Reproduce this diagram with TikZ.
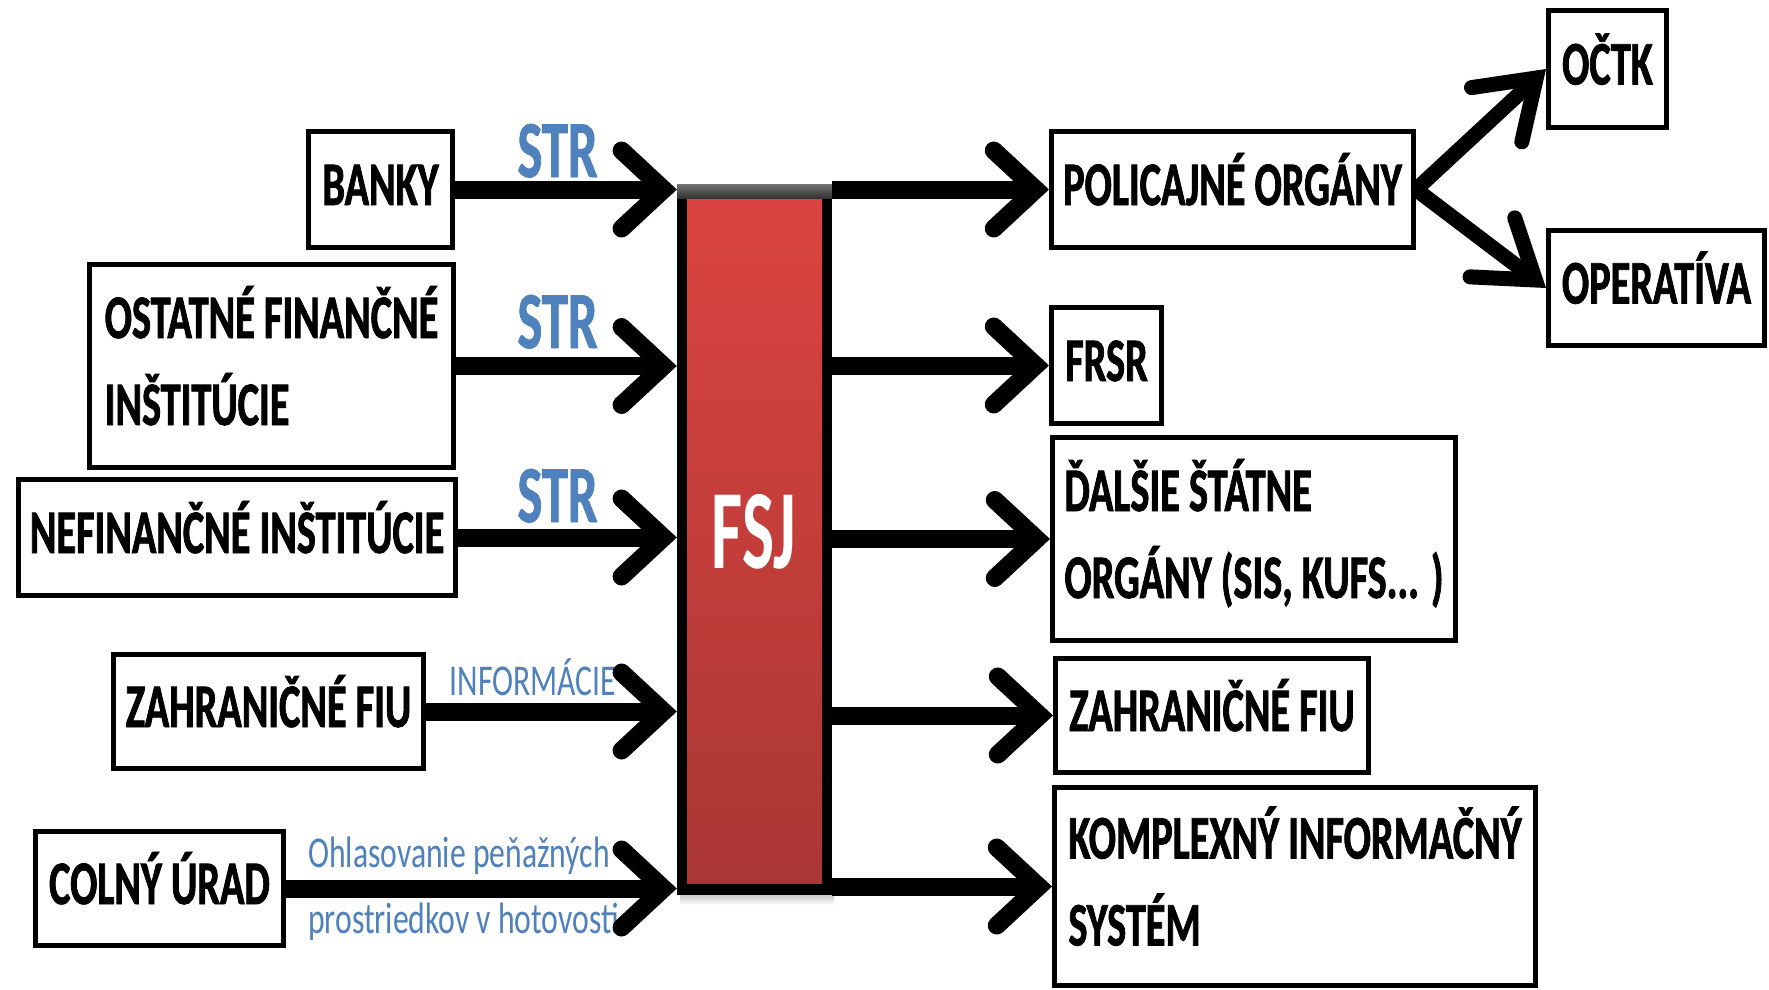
\documentclass[tikz,border=0pt]{standalone}
\usepackage{fontspec}
\usetikzlibrary{arrows.meta,calc}
\newfontfamily\boxfont{Carlito}[FakeStretch=0.65, BoldFeatures={FakeBold=1.2}]
\newfontfamily\lblfont{Carlito}[FakeStretch=0.72]
\newfontfamily\strfont{Carlito}[FakeStretch=0.65, BoldFeatures={FakeBold=1}]
\newfontfamily\fsjfont{Carlito}[FakeStretch=0.6]
\definecolor{lblue}{HTML}{4F81BD}
\definecolor{redtop}{RGB}{219,68,64}
\definecolor{redbot}{RGB}{170,55,52}
\begin{document}
\begin{tikzpicture}[x=1pt,y=-1pt,
  box/.style={draw=black, line width=5pt, fill=white, inner sep=0pt, align=left,
    font=\boxfont\bfseries\fontsize{62}{87}\selectfont, text height=40pt, text depth=9pt},
  box2/.style={box, text height=127pt, text depth=9pt},
  arr/.style={line width=18pt, -{Straight Barb[length=42pt,width=78pt,line cap=round,line join=miter]}},
  arrdiag/.style={line width=15pt, -{Straight Barb[length=54pt,width=74pt,line cap=round,line join=miter]}},
  strlbl/.style={text=lblue, inner sep=0pt, font=\strfont\bfseries\fontsize{81}{81}\selectfont},
  infolbl/.style={text=lblue, inner sep=0pt, font=\lblfont\fontsize{44}{44}\selectfont},
]
\useasboundingbox (0,0) rectangle (1769,990);
\fill[white] (0,0) rectangle (1769,990);

% central bar
\shade[top color=black!25,bottom color=white] (680,893) rectangle (834,905);
\fill[black] (677,184) rectangle (832,895);
\shade[top color=redtop,bottom color=redbot] (687,198) rectangle (822,883);
\shade[top color=black!55,bottom color=black!80] (677,184) rectangle (832,198);
\node[minimum width=155pt, minimum height=711pt, inner sep=0pt] (fsj) at (754.5,539.5) {};
\node[text=white, inner sep=0pt, anchor=base, font=\fsjfont\bfseries\fontsize{113}{113}\selectfont] (fsjlabel) at (754,568) {FSJ};

% left boxes
\node[box, minimum width=144pt, minimum height=116pt] (banky) at (380.5,189.5) {BANKY};
\node[box2, minimum width=364pt, minimum height=203pt] (ostatne) at (271.5,366) {OSTATNÉ FINANČNÉ\\INŠTITÚCIE};
\node[box, minimum width=437pt, minimum height=116pt] (nefin) at (237,537.5) {NEFINANČNÉ INŠTITÚCIE};
\node[box, minimum width=310pt, minimum height=114pt] (zfiuL) at (268.5,711.5) {ZAHRANIČNÉ FIU};
\node[box, minimum width=248pt, minimum height=114pt] (colny) at (159.5,888.5) {COLNÝ ÚRAD};

% right boxes
\node[box, minimum width=362pt, minimum height=116pt] (polic) at (1232.5,189.5) {POLICAJNÉ ORGÁNY};
\node[box, minimum width=110pt, minimum height=116pt] (frsr) at (1106.5,365.5) {FRSR};
\node[box2, minimum width=403pt, minimum height=203pt] (dalsie) at (1254,539) {ĎALŠIE ŠTÁTNE\\ORGÁNY (SIS, KUFS... )};
\node[box, minimum width=313pt, minimum height=114pt] (zfiuR) at (1212,715.5) {ZAHRANIČNÉ FIU};
\node[box2, minimum width=481pt, minimum height=198pt] (komplex) at (1295,886.5) {KOMPLEXNÝ INFORMAČNÝ\\SYSTÉM};
\node[box, minimum width=118pt, minimum height=117pt] (octk) at (1607.5,69) {OČTK};
\node[box, minimum width=216pt, minimum height=115pt] (operat) at (1656.5,288) {OPERATÍVA};

% labels
\node[strlbl, anchor=base] (str1) at (557.5,177) {STR};
\node[strlbl, anchor=base] (str2) at (557.5,348) {STR};
\node[strlbl, anchor=base] (str3) at (557.5,522) {STR};
\node[infolbl, anchor=base] (info) at (533,695) {INFORMÁCIE};
\node[infolbl, anchor=base west] (ohl1) at (308,867) {Ohlasovanie peňažných};
\node[infolbl, anchor=base west] (ohl2) at (308,933) {prostriedkov v hotovosti};

% incoming arrows
\draw[arr] (banky.east) -- (banky.east -| fsj.west);
\draw[arr] (ostatne.east) -- (ostatne.east -| fsj.west);
\draw[arr] (nefin.east) -- (nefin.east -| fsj.west);
\draw[arr] (zfiuL.east) -- (zfiuL.east -| fsj.west);
\draw[arr] (colny.east) -- (colny.east -| fsj.west);

% outgoing arrows
\draw[arr] (fsj.east |- polic.west) -- (polic.west);
\draw[arr] (fsj.east |- frsr.west) -- (frsr.west);
\draw[arr] (fsj.east |- dalsie.west) -- (dalsie.west);
\draw[arr] (fsj.east |- zfiuR.west) -- (zfiuR.west);
\draw[arr] (fsj.east |- komplex.west) -- (komplex.west);

% branching arrows
\draw[arrdiag] (polic.east) -- (octk.west);
\draw[arrdiag] (polic.east) -- (operat.west);
\end{tikzpicture}
\end{document}
